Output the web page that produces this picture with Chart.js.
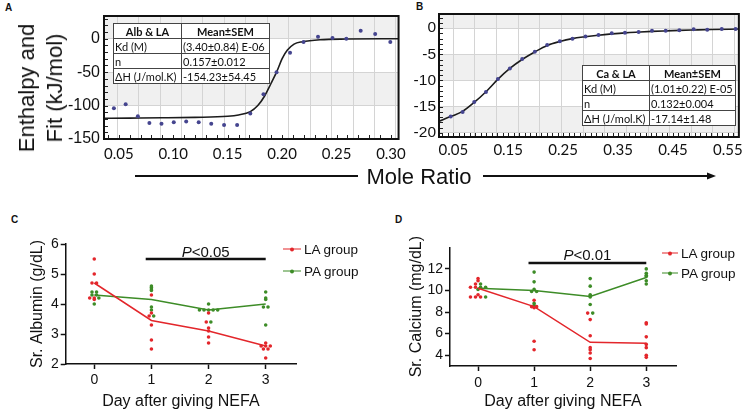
<!DOCTYPE html>
<html>
<head>
<meta charset="utf-8">
<script src="https://cdn.jsdelivr.net/npm/chart.js@4"></script>
<style>
  body { margin: 0; width: 747px; height: 412px; position: relative; background: #fff; overflow: hidden; font-family: "Liberation Sans", Arial, sans-serif; color: #111; }
  .box { position: absolute; }
  .tag { position: absolute; font: bold 10px "Liberation Sans", Arial, sans-serif; }
  .ytitle { position: absolute; transform: translate(-50%, -50%) rotate(-90deg); font-size: 22px; line-height: 28px; text-align: center; white-space: nowrap; }
  .xtitle { position: absolute; transform: translate(-50%, -50%); font-size: 22px; white-space: nowrap; }
  table.fit { position: absolute; z-index: 5; border-collapse: collapse; table-layout: fixed; background: #fff; font: 11px Lato, sans-serif; color: #111; border: 1.5px solid #333; }
  table.fit td, table.fit th { border: 1px solid #444; padding: 0 1px; height: 14px; line-height: 13px; white-space: nowrap; overflow: hidden; }
  table.fit th { text-align: center; font-weight: bold; }
  .leg { position: absolute; transform: translateY(-50%); display: flex; align-items: center; font-size: 13.5px; white-space: nowrap; }
  .mk { position: relative; height: 1.5px; margin-right: 3px; }
  .mk::after { content: ""; position: absolute; left: 50%; top: 50%; width: 4px; height: 4px; margin: -2px 0 0 -2px; border-radius: 50%; background: inherit; }
</style>
</head>
<body>
  <div class="tag" style="left:5px;top:2px">A</div>
  <div class="tag" style="left:416px;top:1px">B</div>
  <div class="tag" style="left:11px;top:214px">C</div>
  <div class="tag" style="left:395px;top:214px">D</div>

  <div class="box" style="left:0;top:0;width:412px;height:165px"><canvas id="albuminItc"></canvas></div>
  <div class="box" style="left:390px;top:0;width:357px;height:165px"><canvas id="calciumItc"></canvas></div>
  <div class="box" style="left:0;top:205px;width:300px;height:207px"><canvas id="albuminSerum"></canvas></div>
  <div class="box" style="left:370px;top:205px;width:310px;height:207px"><canvas id="calciumSerum"></canvas></div>

  <div class="ytitle" style="left:41px;top:88px">Enthalpy and<br>Fit (kJ/mol)</div>
  <div class="xtitle" style="left:419px;top:177px">Mole Ratio</div>
  <svg width="747" height="412" style="position:absolute;left:0;top:0;pointer-events:none">
    <line x1="135" y1="176" x2="358" y2="176" stroke="#111" stroke-width="2" />
    <line x1="483" y1="176" x2="710" y2="176" stroke="#111" stroke-width="2" />
    <polygon points="716,176 707,172.5 707,179.5" fill="#111" />
  </svg>

  <table class="fit" style="left:113px;top:23px;width:156px">
    <colgroup><col style="width:68px"><col style="width:88px"></colgroup>
    <tr><th>Alb &amp; LA</th><th>Mean±SEM</th></tr>
    <tr><td>Kd (M)</td><td>(3.40±0.84) E-06</td></tr>
    <tr><td>n</td><td>0.157±0.012</td></tr>
    <tr><td>ΔH (J/mol.K)</td><td>-154.23±54.45</td></tr>
  </table>
  <table class="fit" style="left:582px;top:65px;width:153px">
    <colgroup><col style="width:67px"><col style="width:86px"></colgroup>
    <tr><th>Ca &amp; LA</th><th>Mean±SEM</th></tr>
    <tr><td>Kd (M)</td><td>(1.01±0.22) E-05</td></tr>
    <tr><td>n</td><td>0.132±0.004</td></tr>
    <tr><td>ΔH (J/mol.K)</td><td>-17.14±1.48</td></tr>
  </table>

  <div class="leg" style="left:283px;top:249px"><span class="mk" style="width:18px;background:#e3262b"></span>LA group</div>
  <div class="leg" style="left:283px;top:271px"><span class="mk" style="width:18px;background:#3d8c27"></span>PA group</div>
  <div class="leg" style="left:662px;top:253px"><span class="mk" style="width:16px;background:#e3262b"></span>LA group</div>
  <div class="leg" style="left:662px;top:273px"><span class="mk" style="width:16px;background:#3d8c27"></span>PA group</div>

<script>
// ---- A: albumin + LA titration ----
const albRatio = [0.0455, 0.0563, 0.0675, 0.0781, 0.0892, 0.1005, 0.1119, 0.1234, 0.1349, 0.1467, 0.1587,
  0.1708, 0.1829, 0.1949, 0.2073, 0.2197, 0.233, 0.2463, 0.259, 0.2722, 0.2855, 0.2994];
const albHeat = [-104, -98, -116, -126, -127, -125, -124, -125, -127, -129, -129,
  -112, -83, -50, -21, -5, 3, 1, 0, 12, 7, -5];
const albFitRatio = [0.036, 0.06, 0.09, 0.12, 0.15, 0.16, 0.1708, 0.1777, 0.1838, 0.1898, 0.1949,
  0.2003, 0.2049, 0.211, 0.2185, 0.235, 0.26, 0.307];
const albFitHeat = [-119, -118.7, -118.3, -117.6, -116, -114, -109, -100, -86, -67, -50,
  -29, -17, -8, -4.5, -1.5, -0.5, 0];
const albXTicks = [0.05, 0.10, 0.15, 0.20, 0.25, 0.30];
const albYTicks = [-150, -100, -50, 0];

// ---- B: calcium + LA titration ----
const caRatio = [0.0453, 0.067, 0.0882, 0.1095, 0.1313, 0.153, 0.1755, 0.1985, 0.221, 0.244, 0.267, 0.2907,
  0.3144, 0.3385, 0.3625, 0.3875, 0.4118, 0.4367, 0.4616, 0.4876, 0.5124, 0.5388, 0.564];
const caHeat = [-16.9, -16.0, -14.1, -12.2, -9.7, -7.7, -5.9, -4.5, -3.2, -2.5, -2.05, -1.6,
  -1.3, -1.0, -0.9, -0.75, -0.5, -0.5, -0.4, -0.2, -0.3, -0.15, -0.15];
const caFitRatio = [0.024, 0.045, 0.067, 0.088, 0.11, 0.131, 0.153, 0.176, 0.199, 0.221, 0.244, 0.267,
  0.29, 0.314, 0.339, 0.363, 0.388, 0.412, 0.437, 0.462, 0.49, 0.52, 0.57];
const caFitHeat = [-17.8, -16.9, -15.9, -14.2, -12.1, -9.8, -7.7, -5.95, -4.5, -3.3, -2.55, -2.0,
  -1.65, -1.35, -1.1, -0.9, -0.75, -0.62, -0.52, -0.43, -0.35, -0.27, -0.17];
const caXTicks = [0.05, 0.15, 0.25, 0.35, 0.45, 0.55];
const caYTicks = [-20, -15, -10, -5, 0];

// ---- C / D: serum values per day (one inner list per day) ----
const dayTicks = [0, 1, 2, 3];
const albuminLA = [[5.5, 5.0, 4.7, 4.7, 4.2, 4.2, 4.15], [4.3, 3.7, 3.6, 3.3, 2.8, 2.5],
  [3.7, 3.4, 3.2, 3.1, 2.9, 2.7], [2.7, 2.6, 2.6, 2.6, 2.5, 2.5, 2.2]];
const albuminPA = [[4.4, 4.4, 4.3, 4.3, 4.2, 4.0], [4.6, 4.55, 4.5, 4.45, 3.9, 3.8, 3.6],
  [4.0, 3.8, 3.8, 3.8, 3.8, 3.8, 3.4], [4.4, 4.2, 4.15, 3.9, 3.9, 3.3]];
const albuminLAMean = [4.7, 3.45, 3.1, 2.6];
const albuminPAMean = [4.3, 4.15, 3.8, 4.0];
const albuminYTicks = [2, 3, 4, 5, 6];

const calciumLA = [[11.1, 10.9, 10.6, 10.3, 10.3, 9.6, 9.4, 9.4, 9.4], [9.1, 8.5, 8.5, 8.4, 5.3, 4.5],
  [7.9, 7.3, 5.8, 4.7, 4.5, 4.2, 3.7], [7.0, 6.9, 5.7, 5.0, 4.7, 4.0, 3.8]];
const calciumPA = [[10.6, 10.3, 10.3, 10.1, 9.4], [11.7, 10.8, 10.1, 9.9, 9.9, 8.8, 8.6],
  [11.1, 10.4, 9.6, 9.5, 9.4, 8.7, 7.9], [12.0, 11.6, 11.4, 11.3, 10.9, 10.6]];
const calciumLAMean = [10.2, 8.5, 5.2, 5.1];
const calciumPAMean = [10.2, 10.0, 9.45, 11.2];
const calciumYTicks = [4, 6, 8, 10, 12];

const LA_RED = "#e3262b";
const PA_GREEN = "#3d8c27";
const ITC_DOT = "#45458f";

Chart.defaults.font.family = '"Liberation Sans", Arial, sans-serif';
Chart.defaults.color = "#111";

const pairs = (xs, ys) => xs.map((x, i) => ({ x, y: ys[i] }));
const asTicks = (list) => (scale) => { scale.ticks = list.map((value) => ({ value })); };

// equal values on the same day are spread sideways, like a dot plot
function jitterDots(groups, step) {
  const out = groups.map(() => []);
  dayTicks.forEach((day, d) => {
    const bins = {};
    groups.forEach((g, gi) => g[d].forEach((v) => {
      (bins[v] = bins[v] || []).push([gi, v]);
    }));
    Object.values(bins).forEach((bin) => bin.forEach(([gi, v], i) => {
      out[gi].push({ x: day + (i - (bin.length - 1) / 2) * step, y: v });
    }));
  });
  return out;
}

// shaded bands, minor ticks and heavy frame of the ITC plots
const itcFrame = {
  id: "itcFrame",
  beforeDraw(chart, args, opts) {
    const { ctx, chartArea: a, scales: { y } } = chart;
    const stops = [y.max, ...opts.bands.slice().sort((p, q) => q - p), y.min];
    ctx.save();
    ctx.fillStyle = "#f0f0f0";
    for (let i = 0; i < stops.length - 1; i += 2) {
      const t = y.getPixelForValue(stops[i]);
      const b = y.getPixelForValue(stops[i + 1]);
      ctx.fillRect(a.left, t, a.right - a.left, b - t);
    }
    ctx.restore();
  },
  afterDraw(chart, args, opts) {
    const { ctx, chartArea: a, scales: { x, y } } = chart;
    ctx.save();
    ctx.strokeStyle = "#222";
    ctx.lineWidth = 1;
    ctx.beginPath();
    const y0 = Math.ceil(y.min / opts.minorY);
    for (let k = y0; k * opts.minorY <= y.max; k++) {
      const py = Math.round(y.getPixelForValue(k * opts.minorY)) + 0.5;
      ctx.moveTo(a.left, py);
      ctx.lineTo(a.left + 4, py);
    }
    const x0 = Math.ceil(x.min / opts.minorX);
    for (let k = x0; k * opts.minorX <= x.max; k++) {
      const px = Math.round(x.getPixelForValue(k * opts.minorX)) + 0.5;
      ctx.moveTo(px, a.bottom);
      ctx.lineTo(px, a.bottom - 4);
    }
    ctx.stroke();
    ctx.lineWidth = 2;
    ctx.strokeStyle = "#111";
    ctx.strokeRect(a.left, a.top, a.right - a.left, a.bottom - a.top);
    ctx.restore();
  },
};

// significance bar with italic P
const pBar = {
  id: "pBar",
  afterDatasetsDraw(chart, args, o) {
    const { ctx, scales: { x, y } } = chart;
    const x0 = x.getPixelForValue(o.from);
    const x1 = x.getPixelForValue(o.to);
    const py = y.getPixelForValue(o.at);
    ctx.save();
    ctx.strokeStyle = "#111";
    ctx.lineWidth = 2.5;
    ctx.beginPath();
    ctx.moveTo(x0, py);
    ctx.lineTo(x1, py);
    ctx.stroke();
    const fam = '"Liberation Sans", Arial, sans-serif';
    ctx.font = "italic 15px " + fam;
    const wp = ctx.measureText("P").width;
    ctx.font = "15px " + fam;
    const rest = "<" + o.text;
    const wr = ctx.measureText(rest).width;
    const start = (x0 + x1) / 2 - (wp + wr) / 2;
    ctx.fillStyle = "#111";
    ctx.textBaseline = "alphabetic";
    ctx.textAlign = "left";
    ctx.fillText(rest, start + wp, py - 2.5);
    ctx.font = "italic 15px " + fam;
    ctx.fillText("P", start, py - 2.5);
    ctx.restore();
  },
};

function itcOptions(o) {
  return {
    animation: false,
    responsive: true,
    maintainAspectRatio: false,
    layout: { padding: o.padding, autoPadding: false },
    plugins: {
      legend: { display: false },
      tooltip: { enabled: false },
      itcFrame: { bands: o.yTicks, minorX: o.minorX, minorY: o.minorY },
    },
    scales: {
      x: {
        type: "linear", min: o.xMin, max: o.xMax,
        afterBuildTicks: asTicks(o.xTicks),
        afterFit: (s) => { s.height = o.xHeight; },
        ticks: { autoSkip: false, maxRotation: 0, padding: o.xPad, font: { family: "Lato", size: 15 }, callback: (v) => v.toFixed(2) },
        grid: { display: false, drawTicks: false },
        border: { display: false },
      },
      xg: {
        type: "linear", position: "bottom", min: o.xMin, max: o.xMax,
        afterBuildTicks: (s) => {
          const n = Math.floor((o.xMax - o.gridStart) / o.gridStep) + 1;
          s.ticks = Array.from({ length: n }, (_, i) => ({ value: o.gridStart + i * o.gridStep }));
        },
        afterFit: (s) => { s.height = 0; },
        ticks: { display: false },
        grid: { color: "#d4d4d4", drawTicks: false },
        border: { display: false },
      },
      y: {
        min: o.yMin, max: o.yMax,
        afterBuildTicks: asTicks(o.yTicks),
        afterFit: (s) => { s.width = o.yWidth; },
        ticks: { padding: o.yPad, font: { size: o.yFont } },
        grid: { color: "#d4d4d4", drawTicks: false },
        border: { display: false },
      },
    },
  };
}

function serumOptions(o) {
  return {
    animation: false,
    responsive: true,
    maintainAspectRatio: false,
    layout: { padding: o.padding, autoPadding: false },
    plugins: {
      legend: { display: false },
      tooltip: { enabled: false },
      pBar: o.bar,
    },
    scales: {
      x: {
        type: "linear", min: -0.5, max: 3.53,
        afterBuildTicks: asTicks(dayTicks),
        afterFit: (s) => { s.height = o.xHeight; },
        ticks: { autoSkip: false, maxRotation: 0, padding: o.xPad, font: { size: 14 } },
        grid: { drawOnChartArea: false, tickLength: 5, tickWidth: 1.5, tickColor: "#111" },
        border: { color: "#111", width: 1.5 },
        title: { display: true, text: "Day after giving NEFA", font: { size: 16 }, padding: 0 },
      },
      y: {
        min: o.yMin, max: o.yMax,
        afterBuildTicks: asTicks(o.yTicks),
        afterFit: (s) => { s.width = o.yWidth; },
        ticks: { padding: 2, font: { size: 14 } },
        grid: { drawOnChartArea: false, tickLength: 5, tickWidth: 1.5, tickColor: "#111" },
        border: { color: "#111", width: 1.5 },
        title: { display: true, text: o.yTitle, font: { size: 16 }, padding: 0 },
      },
    },
  };
}

function itcDatasets(ratio, heat, fitRatio, fitHeat) {
  return [
    { type: "scatter", data: pairs(ratio, heat), backgroundColor: ITC_DOT, borderWidth: 0, pointRadius: 2 },
    { type: "line", data: pairs(fitRatio, fitHeat), borderColor: "#1c1c1c", borderWidth: 1.6, pointRadius: 0, cubicInterpolationMode: "monotone" },
  ];
}

function serumDatasets(la, pa, laMean, paMean, step) {
  const [laDots, paDots] = jitterDots([la, pa], step);
  return [
    { type: "line", label: "LA group", data: pairs(dayTicks, laMean), borderColor: LA_RED, borderWidth: 1.5, pointRadius: 0 },
    { type: "line", label: "PA group", data: pairs(dayTicks, paMean), borderColor: PA_GREEN, borderWidth: 1.5, pointRadius: 0 },
    { type: "scatter", data: laDots, backgroundColor: LA_RED, borderWidth: 0, pointRadius: 1.8 },
    { type: "scatter", data: paDots, backgroundColor: PA_GREEN, borderWidth: 0, pointRadius: 1.8 },
  ];
}

new Chart(document.getElementById("albuminItc"), {
  data: { datasets: itcDatasets(albRatio, albHeat, albFitRatio, albFitHeat) },
  options: itcOptions({
    padding: { left: 0, top: 16, right: 9, bottom: 0 },
    xMin: 0.0364, xMax: 0.307, xTicks: albXTicks, xHeight: 26, xPad: 6,
    gridStart: 0.0485, gridStep: 0.0197, minorX: 0.01,
    yMin: -150, yMax: 34, yTicks: albYTicks, yWidth: 104, yPad: 4, yFont: 16, minorY: 10,
  }),
  plugins: [itcFrame],
});

new Chart(document.getElementById("calciumItc"), {
  data: { datasets: itcDatasets(caRatio, caHeat, caFitRatio, caFitHeat) },
  options: itcOptions({
    padding: { left: 0, top: 14, right: 8, bottom: 0 },
    xMin: 0.024, xMax: 0.57, xTicks: caXTicks, xHeight: 28, xPad: 4,
    gridStart: 0.05, gridStep: 0.0394, minorX: 0.01,
    yMin: -20.8, yMax: 2.7, yTicks: caYTicks, yWidth: 49, yPad: 3, yFont: 15.5, minorY: 1,
  }),
  plugins: [itcFrame],
});

new Chart(document.getElementById("albuminSerum"), {
  data: { datasets: serumDatasets(albuminLA, albuminPA, albuminLAMean, albuminPAMean, 0.08) },
  options: serumOptions({
    padding: { left: 28, top: 39, right: 4, bottom: 1 },
    xHeight: 47, xPad: 2.5, yWidth: 37.7,
    yMin: 2, yMax: 6, yTicks: albuminYTicks, yTitle: "Sr. Albumin (g/dL)",
    bar: { from: 0.9, to: 3.0, at: 5.5, text: "0.05" },
  }),
  plugins: [pBar],
});

new Chart(document.getElementById("calciumSerum"), {
  data: { datasets: serumDatasets(calciumLA, calciumPA, calciumLAMean, calciumPAMean, 0.09) },
  options: serumOptions({
    padding: { left: 37, top: 42.3, right: 4, bottom: 1 },
    xHeight: 45, xPad: 4, yWidth: 43,
    yMin: 3, yMax: 14, yTicks: calciumYTicks, yTitle: "Sr. Calcium (mg/dL)",
    bar: { from: 0.9, to: 3.0, at: 12.55, text: "0.01" },
  }),
  plugins: [pBar],
});
</script>
</body>
</html>
